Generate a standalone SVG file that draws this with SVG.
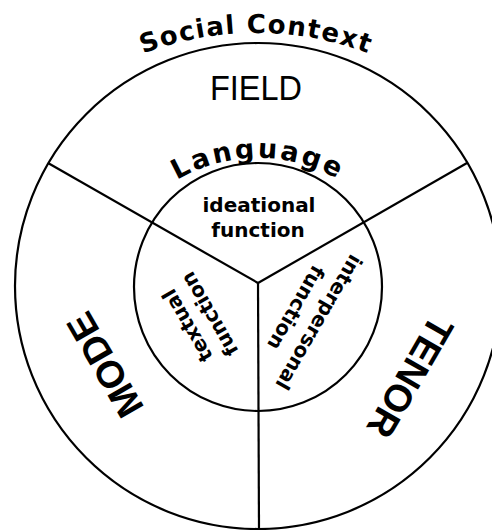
<svg xmlns="http://www.w3.org/2000/svg" width="492" height="530" viewBox="0 0 492 530">
<style>
.ln{fill:none;stroke:#000;stroke-width:2.2}
.big{font-family:"Liberation Sans",Arial,sans-serif;font-size:38px;font-weight:bold;fill:#000;text-anchor:middle}
.fn{font-family:"DejaVu Sans",sans-serif;font-size:20px;font-weight:bold;fill:#000;text-anchor:middle}
.arc{font-family:"DejaVu Sans",sans-serif;font-weight:bold;fill:#000;text-anchor:middle}
</style>
<defs>
<path id="pSocial" d="M29.7 126.7 A320 320 0 0 1 482.3 126.7"/>
<path id="pLang" d="M119.4 238 A160 160 0 0 1 396.6 238"/>
</defs>
<rect width="492" height="530" fill="#fff"/>
<g id="social-context">
<circle class="ln" cx="258" cy="286" r="243"/>
<text class="arc" font-size="26" letter-spacing="1.4"><textPath href="#pSocial" startOffset="50%">Social Context</textPath></text>
</g>
<g id="language">
<circle class="ln" cx="258" cy="287" r="124"/>
<text class="arc" font-size="27" letter-spacing="2.6"><textPath href="#pLang" startOffset="50%">Language</textPath></text>
</g>
<g id="connectors">
<line class="ln" x1="258" y1="283" x2="48" y2="163"/>
<line class="ln" x1="258" y1="283" x2="467" y2="163"/>
<line class="ln" x1="258" y1="283" x2="259" y2="530" stroke-width="2.6"/>
</g>
<g id="field">
<text x="256" y="100" font-family="Liberation Sans,Arial,sans-serif" font-size="35" text-anchor="middle" textLength="92" lengthAdjust="spacingAndGlyphs">FIELD</text>
</g>
<g id="mode">
<text class="big" transform="translate(105,365) rotate(-120)" x="0" y="13">MODE</text>
</g>
<g id="tenor">
<text class="big" transform="translate(410,377) rotate(120)" x="0" y="13">TENOR</text>
</g>
<g id="ideational-function">
<text class="fn" x="259" y="212">ideational</text>
<text class="fn" x="258" y="237">function</text>
</g>
<g id="textual-function" transform="rotate(-120 258 286)">
<text class="fn" x="259" y="212">textual</text>
<text class="fn" x="258" y="237">function</text>
</g>
<g id="interpersonal-function" transform="rotate(120 258 286)">
<text class="fn" x="259" y="222">interpersonal</text>
<text class="fn" x="258" y="249">function</text>
</g>
</svg>
